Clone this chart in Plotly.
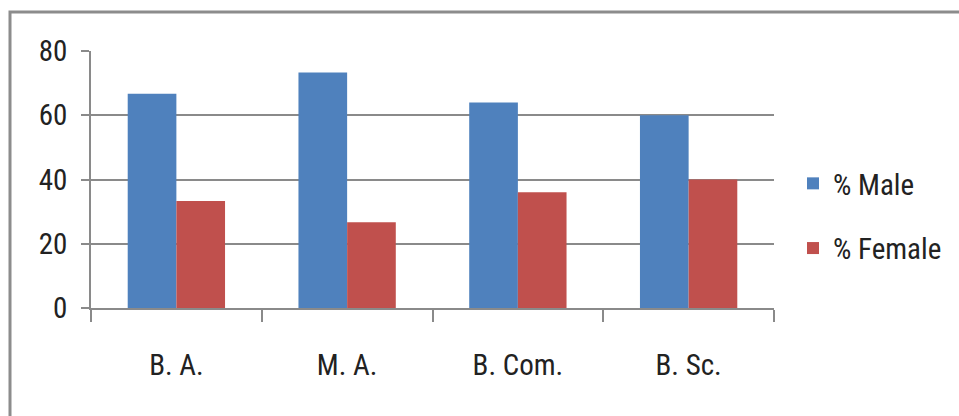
import plotly.graph_objects as go

# Course categories and the gender split (%) in each
courses = ["B. A.", "M. A.", "B. Com.", "B. Sc."]
male_pct = [66.7, 73.3, 64.0, 60.0]
female_pct = [33.3, 26.7, 36.0, 40.0]
y_ticks = [0, 20, 40, 60, 80]

W, H = 959, 416
L, R, T, B = 91, 185, 51, 108
PW, PH = W - L - R, H - T - B

FONT = "Liberation Sans Narrow, Arial Narrow, Roboto Condensed, Liberation Sans, sans-serif"
GRID = "#8a8a8a"

fig = go.Figure()
fig.add_trace(go.Bar(x=courses, y=male_pct, name="% Male",
                     marker=dict(color="#4F81BD", line=dict(width=0)),
                     legendgroup="m"))
fig.add_trace(go.Bar(x=courses, y=female_pct, name="% Female",
                     marker=dict(color="#C0504D", line=dict(width=0)),
                     legendgroup="f"))

# outer chart frame (right and bottom edges run past the page)
def px_x(p):
    return (p - L) / PW

def px_y(p):
    return (H - B - p) / PH

fig.add_shape(type="rect", xref="paper", yref="paper",
              x0=px_x(10), x1=px_x(990), y0=px_y(440), y1=px_y(12),
              line=dict(color="#8c8c8c", width=3), fillcolor="rgba(0,0,0,0)",
              layer="below")

fig.update_layout(
    width=W, height=H,
    margin=dict(l=L, r=R, t=T, b=B, pad=0, autoexpand=False),
    paper_bgcolor="white", plot_bgcolor="white",
    barmode="group", bargap=0.43, bargroupgap=0,
    font=dict(family=FONT, size=29, color="#222222"),
    legend=dict(x=px_x(793), y=px_y(158), xanchor="left", yanchor="top",
                font=dict(size=29, family=FONT), tracegroupgap=24,
                bgcolor="rgba(0,0,0,0)"),
    xaxis=dict(type="category", showgrid=False,
               showline=True, linecolor=GRID, linewidth=1.5,
               ticks="outside", tickson="boundaries", ticklen=12,
               tickcolor=GRID, tickwidth=1.5, ticklabelstandoff=30,
               tickfont=dict(size=29, family=FONT)),
    yaxis=dict(range=[0, 80], tickvals=y_ticks,
               showgrid=True, gridcolor=GRID, gridwidth=1.5,
               showline=True, linecolor=GRID, linewidth=1.5,
               ticks="outside", ticklen=8, tickcolor=GRID, tickwidth=1.5,
               ticklabelstandoff=8, zeroline=False,
               tickfont=dict(size=29, family=FONT)),
)

fig.write_html("out.html")
